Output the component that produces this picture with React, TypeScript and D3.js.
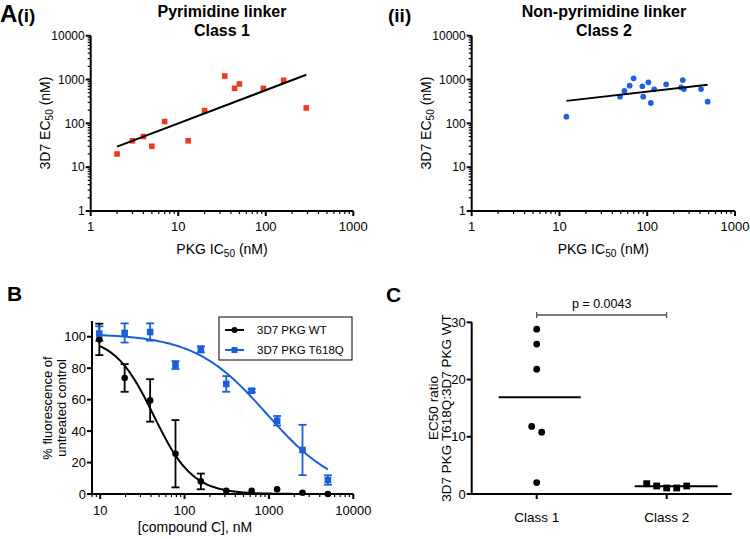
import React from "react";
import * as d3 from "d3";

////////////////////
//// Data

// A(i) pyrimidine linker, class 1
const class1IC50 = [2, 3, 4, 5, 7, 13, 20, 34, 44, 50, 94, 160, 290];
const class1EC50 = [20, 40, 50, 30, 110, 40, 195, 1200, 630, 790, 630, 960, 225];

// A(ii) non-pyrimidine linker, class 2
const class2IC50 = [12, 49, 55, 63, 70, 88, 90, 103, 110, 120, 164, 243, 254, 262, 410, 488];
const class2EC50 = [142, 406, 547, 723, 1064, 698, 406, 861, 291, 597, 776, 662, 974, 607, 607, 312];

// B dose response, compound C
const doseNM = [9.77, 19.5, 39.1, 78.1, 156, 312, 625, 1250, 2500, 5000];
const wtMean = [98.3, 73.8, 59.5, 25.6, 8, 2, 2, 3, 0.8, 0];
const wtErr = [10, 8.8, 13.5, 21.4, 5, 0, 0, 0, 0, 0];
const mutMean = [102, 102.4, 103, 82, 92, 70, 65.7, 46.6, 28, 8.9];
const mutErr = [4.6, 6.1, 5.5, 2.5, 2, 5, 1, 3, 16, 3];
// four parameter logistic fits
const wtFit = { top: 100, bottom: 0, ic50: 43, hill: 1.88 };
const mutFit = { top: 102, bottom: 0, ic50: 940, hill: 1.02 };
const legendNames = ["3D7 PKG WT", "3D7 PKG T618Q"];

// C EC50 ratio T618Q:WT
const classNames = ["Class 1", "Class 2"];
const ratioClass1 = [28.8, 26.2, 21.8, 11.8, 10.8, 2.0];
const ratioClass2 = [1.05, 1.05, 1.4, 1.4, 1.8];
const pValue = "p = 0.0043";

////////////////////
//// Styling

const FONT = "'Liberation Sans', Arial, Helvetica, sans-serif";
const RED = "#ef3a22";
const BLUE = "#1f60e4";
const BLUE_B = "#1c5ed9";
const AXIS_W = 2;

// least squares in log-log space
function logFit(xs: number[], ys: number[]) {
    const lx = xs.map(Math.log10);
    const ly = ys.map(Math.log10);
    const mx = d3.mean(lx)!;
    const my = d3.mean(ly)!;
    const slope = d3.sum(lx, (d, i) => (d - mx) * (ly[i] - my)) / d3.sum(lx, d => (d - mx) ** 2);
    return (x: number) => 10 ** (my + slope * (Math.log10(x) - mx));
}

function logistic(p: { top: number, bottom: number, ic50: number, hill: number }) {
    return (x: number) => p.bottom + (p.top - p.bottom) / (1 + (x / p.ic50) ** p.hill);
}

// simple beeswarm: greedy placement, then recentre each colliding group
function dodge(values: number[], y: (v: number) => number, step: number, minDist: number) {
    const placed: { dx: number, y: number }[] = [];
    values.forEach(v => {
        const py = y(v);
        for (let k = 0; k < 50; k++) {
            const dx = k === 0 ? 0 : (k % 2 ? 1 : -1) * Math.ceil(k / 2) * step;
            if (placed.every(p => Math.hypot(p.dx - dx, p.y - py) >= minDist)) {
                placed.push({ dx, y: py });
                break;
            }
        }
    });
    const order = d3.range(placed.length).sort((a, b) => placed[a].y - placed[b].y);
    let group: number[] = [];
    const flush = () => {
        const m = d3.mean(group, i => placed[i].dx)!;
        group.forEach(i => placed[i].dx -= m);
        group = [];
    };
    order.forEach((i, k) => {
        if (k > 0 && placed[i].y - placed[order[k - 1]].y >= minDist) flush();
        group.push(i);
    });
    flush();
    return placed;
}

function Marker({ shape, x, y, size, fill }: any) {
    if (shape === "square")
        return <rect x={ x - size / 2 } y={ y - size / 2 } width={ size } height={ size } fill={ fill }/>;
    return <circle cx={ x } cy={ y } r={ size / 2 } fill={ fill }/>;
}

function isDecade(v: number) {
    return Math.abs(Math.log10(v) - Math.round(Math.log10(v))) < 1e-6;
}

function AxisLeft({ scale, x, ticks, minor = [], fontSize = 13, fmt = (d: number) => String(d) }: any) {
    const [r0, r1] = scale.range();
    return (
        <g>
            <line x1={ x } x2={ x } y1={ r0 + AXIS_W / 2 } y2={ r1 } stroke="#000" strokeWidth={ AXIS_W }/>
            { minor.map((t: number, i: number) =>
                <line key={ "m" + i } x1={ x - 3 } x2={ x } y1={ scale(t) } y2={ scale(t) } stroke="#000" strokeWidth={ 1.2 }/>) }
            { ticks.map((t: number, i: number) =>
                <g key={ i }>
                    <line x1={ x - 5 } x2={ x } y1={ scale(t) } y2={ scale(t) } stroke="#000" strokeWidth={ AXIS_W }/>
                    <text x={ x - 6 } y={ scale(t) } dy="0.35em" textAnchor="end" fontSize={ fontSize }>{ fmt(t) }</text>
                </g>) }
        </g>
    );
}

function AxisBottom({ scale, y, ticks, minor = [], fontSize = 13, fmt = (d: any) => String(d), x0, x1, labelOffset = 20.5 }: any) {
    const [r0, r1] = scale.range();
    return (
        <g>
            <line x1={ x0 ?? r0 } x2={ x1 ?? r1 } y1={ y } y2={ y } stroke="#000" strokeWidth={ AXIS_W }/>
            { minor.map((t: number, i: number) =>
                <line key={ "m" + i } x1={ scale(t) } x2={ scale(t) } y1={ y } y2={ y + 3 } stroke="#000" strokeWidth={ 1.2 }/>) }
            { ticks.map((t: any, i: number) =>
                <g key={ i }>
                    <line x1={ scale(t) } x2={ scale(t) } y1={ y } y2={ y + 5 } stroke="#000" strokeWidth={ AXIS_W }/>
                    <text x={ scale(t) } y={ y + labelOffset } textAnchor="middle" fontSize={ fontSize }>{ fmt(t) }</text>
                </g>) }
        </g>
    );
}

// label with a "50" subscript
function Sub50({ pre, post, x, y, rotate = false, size = 14 }: any) {
    return (
        <text x={ x } y={ y } textAnchor="middle" fontSize={ size }
              transform={ rotate ? `rotate(-90,${ x },${ y })` : undefined }>
            { pre }<tspan dy={ 3 } fontSize={ size * 0.72 }>50</tspan><tspan dy={ -3 }>{ post }</tspan>
        </text>
    );
}

function ScatterPanel({ xs, ys, color, shape, left, right, titles, titleX }: any) {
    const x = d3.scaleLog().domain([1, 1000]).range([left, right]);
    const y = d3.scaleLog().domain([1, 10000]).range([211, 35.7]);
    const fit = logFit(xs, ys);
    const ext = d3.extent(xs) as [number, number];
    const xt = x.ticks();
    const yt = y.ticks();
    const line = d3.line<number>().x(d => x(d)).y(d => y(fit(d)));

    return (
        <g>
            <text x={ titleX } y={ 16.5 } textAnchor="middle" fontSize={ 16 } fontWeight="bold">{ titles[0] }</text>
            <text x={ titleX } y={ 35.5 } textAnchor="middle" fontSize={ 16 } fontWeight="bold">{ titles[1] }</text>
            <AxisLeft scale={ y } x={ left } ticks={ yt.filter(isDecade) } minor={ yt.filter(d => !isDecade(d)) } fontSize={ 12 }/>
            <AxisBottom scale={ x } y={ 211 } ticks={ xt.filter(isDecade) } minor={ xt.filter(d => !isDecade(d)) } fontSize={ 13 } labelOffset={ 20 }/>
            <Sub50 pre="3D7 EC" post=" (nM)" x={ left - 41 } y={ 123 } rotate/>
            <Sub50 pre="PKG IC" post=" (nM)" x={ (left + right) / 2 } y={ 254 }/>
            { xs.map((d: number, i: number) =>
                <Marker key={ i } shape={ shape } x={ x(d) } y={ y(ys[i]) } size={ shape === "square" ? 5.6 : 5.8 } fill={ color }/>) }
            <path d={ line(ext)! } fill="none" stroke="#000" strokeWidth={ 2 }/>
        </g>
    );
}

function DosePanel() {
    const x = d3.scaleLog().domain([8, 10000]).range([92, 353.3]);
    const y = d3.scaleLinear().domain([0, 110]).range([494, 321]);
    const xt = x.ticks();
    const series = [
        { mean: wtMean, err: wtErr, fit: logistic(wtFit), color: "#000", shape: "circle" },
        { mean: mutMean, err: mutErr, fit: logistic(mutFit), color: BLUE_B, shape: "square" },
    ];
    const lx = d3.range(0, 101).map(i => doseNM[0] * (doseNM[doseNM.length - 1] / doseNM[0]) ** (i / 100));

    return (
        <g>
            <text x={ 7 } y={ 301 } fontSize={ 21 } fontWeight="bold">B</text>
            <AxisLeft scale={ y } x={ 92 } ticks={ [0, 20, 40, 60, 80, 100] } fontSize={ 13 }/>
            <AxisBottom scale={ x } y={ 494 } ticks={ xt.filter(isDecade) } minor={ xt.filter(d => !isDecade(d)) } fontSize={ 13 } labelOffset={ 21 }/>
            <text transform="translate(56,408) rotate(-90)" textAnchor="middle" fontSize={ 13 }>
                <tspan x={ 0 } y={ -4 }>% fluorescence of</tspan>
                <tspan x={ 0 } y={ 10 }>untreated control</tspan>
            </text>
            <text x={ 195 } y={ 532 } textAnchor="middle" fontSize={ 14 }>[compound C], nM</text>
            { series.map((s, k) =>
                <path key={ "c" + k } d={ d3.line<number>().x(d => x(d)).y(d => y(s.fit(d)))(lx)! }
                      fill="none" stroke={ s.color } strokeWidth={ 2 }/>) }
            { series.map((s, k) =>
                <g key={ "e" + k } stroke={ s.color } strokeWidth={ 1.8 }>
                    { doseNM.map((d, i) => s.err[i] > 0.5 &&
                        <g key={ i }>
                            <line x1={ x(d) } x2={ x(d) } y1={ y(s.mean[i] - s.err[i]) } y2={ y(s.mean[i] + s.err[i]) }/>
                            <line x1={ x(d) - 4 } x2={ x(d) + 4 } y1={ y(s.mean[i] - s.err[i]) } y2={ y(s.mean[i] - s.err[i]) }/>
                            <line x1={ x(d) - 4 } x2={ x(d) + 4 } y1={ y(s.mean[i] + s.err[i]) } y2={ y(s.mean[i] + s.err[i]) }/>
                        </g>) }
                </g>) }
            { series.map((s, k) =>
                <g key={ "m" + k }>
                    { doseNM.map((d, i) =>
                        <Marker key={ i } shape={ s.shape } x={ x(d) } y={ y(s.mean[i]) } size={ 6.6 } fill={ s.color }/>) }
                </g>) }
            {/* legend */ }
            <rect x={ 219 } y={ 317 } width={ 133 } height={ 43 } fill="#fff" stroke="#000" strokeWidth={ 1 }/>
            { series.map((s, k) =>
                <g key={ "l" + k }>
                    <line x1={ 225 } x2={ 244 } y1={ 330 + k * 20 } y2={ 330 + k * 20 } stroke={ s.color } strokeWidth={ 2 }/>
                    <Marker shape={ s.shape } x={ 234.5 } y={ 330 + k * 20 } size={ 6 } fill={ s.color }/>
                    <text x={ 257 } y={ 330 + k * 20 } dy="0.35em" fontSize={ 11.5 }>{ legendNames[k] }</text>
                </g>) }
        </g>
    );
}

function RatioPanel() {
    const x = d3.scalePoint().domain(classNames).range([471.7, 731.7]).padding(0.5);
    const y = d3.scaleLinear().domain([0, 30]).range([494, 322.3]);
    const groups = [
        { values: ratioClass1, shape: "circle", l: 38, r: 44 },
        { values: ratioClass2, shape: "square", l: 32, r: 51 },
    ];
    const x1 = x(classNames[0])!;
    const x2 = x(classNames[1])!;

    return (
        <g>
            <text x={ 386 } y={ 301.5 } fontSize={ 21 } fontWeight="bold">C</text>
            <AxisLeft scale={ y } x={ 471.7 } ticks={ [0, 10, 20, 30] } fontSize={ 13 }/>
            <AxisBottom scale={ x } y={ 494 } ticks={ classNames } x0={ 471.7 } x1={ 731.7 } fontSize={ 13.5 } labelOffset={ 28 }/>
            <text transform="translate(438,408) rotate(-90)" textAnchor="middle" fontSize={ 13.5 }>
                <tspan x={ 0 } y={ 0 }>EC50 ratio</tspan>
                <tspan x={ 0 } y={ 12.5 }>3D7 PKG T618Q:3D7 PKG WT</tspan>
            </text>
            { groups.map((g, k) => {
                const cx = x(classNames[k])!;
                const pos = dodge(g.values, y, 10, 8);
                const m = d3.mean(g.values)!;
                return (
                    <g key={ k }>
                        { pos.map((p, i) =>
                            <Marker key={ i } shape={ g.shape } x={ cx + p.dx } y={ p.y } size={ 6.8 } fill="#000"/>) }
                        <line x1={ cx - g.l } x2={ cx + g.r } y1={ y(m) } y2={ y(m) } stroke="#000" strokeWidth={ 2 }/>
                    </g>
                );
            }) }
            {/* significance bracket */ }
            <g stroke="#555" strokeWidth={ 1.3 }>
                <line x1={ x1 } x2={ x2 } y1={ 315 } y2={ 315 }/>
                <line x1={ x1 } x2={ x1 } y1={ 312 } y2={ 318 }/>
                <line x1={ x2 } x2={ x2 } y1={ 312 } y2={ 318 }/>
            </g>
            <text x={ (x1 + x2) / 2 } y={ 307.5 } textAnchor="middle" fontSize={ 12.5 }>{ pValue }</text>
        </g>
    );
}

export default function App() {
    return (
        <svg width={ 750 } height={ 539 } viewBox="0 0 750 539" fontFamily={ FONT }
             style={ { position: "absolute", left: 0, top: 0, background: "#fff" } }>
            <rect width={ 750 } height={ 539 } fill="#fff"/>
            <text x={ 0 } y={ 22 } fontWeight="bold">
                <tspan fontSize={ 24 }>A</tspan><tspan fontSize={ 19 }>(i)</tspan>
            </text>
            <text x={ 388 } y={ 21.5 } fontSize={ 19 } fontWeight="bold">(ii)</text>
            <ScatterPanel xs={ class1IC50 } ys={ class1EC50 } color={ RED } shape="square"
                          left={ 90.7 } right={ 353.3 } titleX={ 222 }
                          titles={ [ "Pyrimidine linker", "Class 1" ] }/>
            <ScatterPanel xs={ class2IC50 } ys={ class2EC50 } color={ BLUE } shape="circle"
                          left={ 471.7 } right={ 735 } titleX={ 604 }
                          titles={ [ "Non-pyrimidine linker", "Class 2" ] }/>
            <DosePanel/>
            <RatioPanel/>
        </svg>
    );
}
